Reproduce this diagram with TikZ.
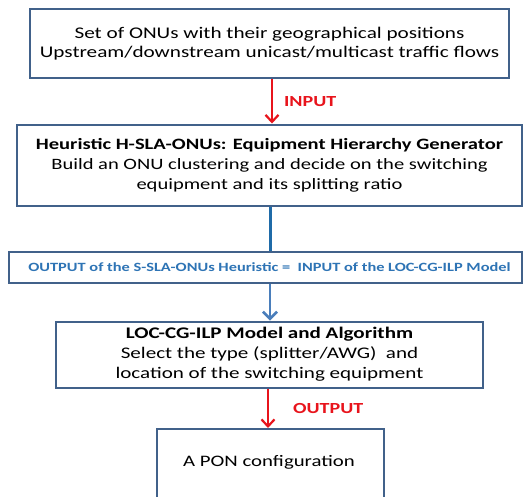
\documentclass[tikz,border=0pt]{standalone}
\usepackage{fontspec}
\setmainfont{Carlito}
\newfontfamily\widefont[FakeStretch=1.3]{Carlito}
\usetikzlibrary{arrows.meta}
\definecolor{boxline}{HTML}{41618A}
\definecolor{flowred}{HTML}{E8141C}
\definecolor{linkblue}{HTML}{1F6BA8}
\definecolor{arrowblue}{HTML}{4A7EBB}
\definecolor{textblue}{HTML}{2E74B5}
\tikzset{
  box/.style={draw=boxline, line width=2pt, fill=white, align=center, inner sep=0pt},
  redflow/.style={draw=flowred, line width=2.2pt, -{Straight Barb[length=7pt,width=13pt,line width=2.2pt]}},
  blueflow/.style={draw=arrowblue, line width=2.6pt, -{Straight Barb[length=7pt,width=14pt,line width=2.6pt]}},
  bluelink/.style={draw=linkblue, line width=3pt},
  flowlabel/.style={text=flowred, font=\widefont\bfseries\fontsize{15.4}{18}\selectfont, anchor=west, inner sep=0pt}
}
\begin{document}
\begin{tikzpicture}[x=1pt,y=-1pt]
\clip (0,0) rectangle (528,496);
\fill[white] (0,0) rectangle (528,496);

% input data
\node[box, minimum width=479pt, minimum height=69pt,
      font=\widefont\fontsize{16.3}{19.5}\selectfont] (b1) at (269.5,43.5)
  {Set of ONUs with their geographical positions\\
   Upstream/downstream unicast/multicast traffic flows};

% clustering heuristic
\node[box, minimum width=505pt, minimum height=81pt,
      font=\widefont\fontsize{15.8}{20}\selectfont] (b2) at (269.5,165)
  {\textbf{Heuristic H-SLA-ONUs: Equipment Hierarchy Generator}\\
   Build an ONU clustering and decide on the switching\\
   equipment and its splitting ratio};

% hand-over between the two stages
\node[box, minimum width=513pt, minimum height=31pt,
      font=\widefont\bfseries\fontsize{12.6}{14}\selectfont, text=textblue] (b3) at (265.5,267.5)
  {\hspace*{8pt}OUTPUT of the S-SLA-ONUs Heuristic =\ \ INPUT of the LOC-CG-ILP Model};

% location model
\node[box, minimum width=427pt, minimum height=66pt,
      font=\widefont\fontsize{16.2}{20}\selectfont] (b4) at (269.5,354.5)
  {\textbf{LOC-CG-ILP Model and Algorithm}\\
   Select the type (splitter/AWG)\ \ and\\
   location of the switching equipment};

% result
\node[box, minimum width=227pt, minimum height=90pt, anchor=north] (b5) at (270.5,428) {};
\node[font=\widefont\fontsize{16}{20}\selectfont, inner sep=0pt] (b5t) at (269,462) {A PON configuration};

% connectors
\draw[redflow] ([xshift=2.5pt]b1.south) -- ([xshift=2.5pt]b2.north)
  node[flowlabel, pos=0.5, xshift=11pt] (lin) {INPUT};
\draw[bluelink] ([xshift=0.5pt]b2.south) -- ([xshift=4.5pt]b3.north);
\draw[blueflow] ([xshift=4.5pt]b3.south) -- ([xshift=0.5pt]b4.north);
\draw[redflow] ([xshift=-1.5pt]b4.south) -- ([xshift=-2.5pt]b5.north)
  node[flowlabel, pos=0.5, xshift=24pt] (lout) {OUTPUT};
\end{tikzpicture}
\end{document}
